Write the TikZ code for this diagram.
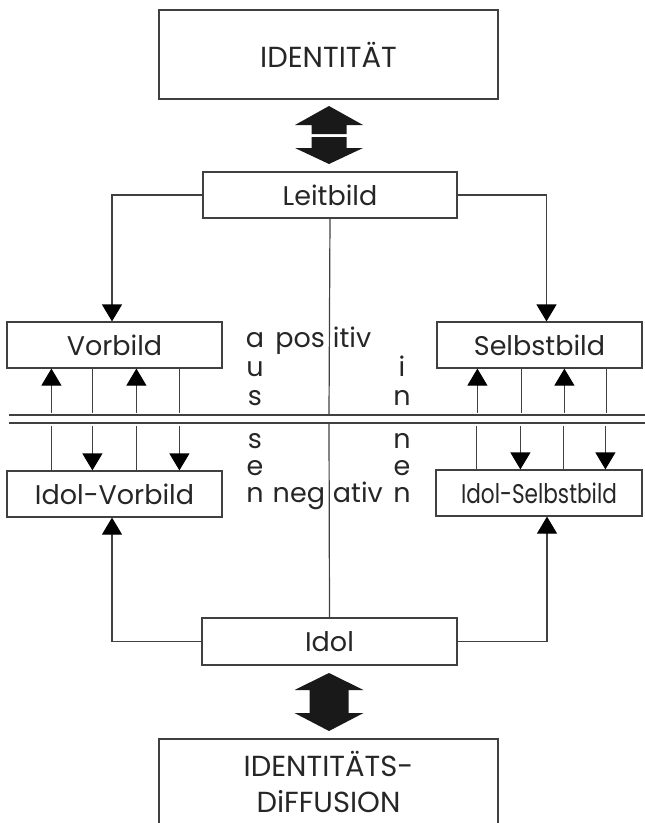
\documentclass[tikz,border=0pt]{standalone}
\usepackage{fontspec}
\setmainfont{Poppins}
\usepackage{graphicx}
\usetikzlibrary{arrows.meta,calc,positioning}

\tikzset{
  strich/.style={black!75, line width=1.2pt},
  bildbox/.style={draw=black!75, line width=1.2pt, inner sep=0pt, text=black!85},
  conn/.style={strich, -{Triangle[width=20pt,length=17pt,black]}},
  letter/.style={anchor=base, inner sep=0pt, text=black!85},
  bigarrow/.style={fill=black!90},
  bigtext/.style={font=\fontsize{29}{36}\selectfont},
}

\begin{document}
\begin{tikzpicture}[x=1pt, y=-1pt, font=\fontsize{27}{36}\selectfont]
  \useasboundingbox (0,0) rectangle (645,823);

  % Boxes
  \node[bildbox, bigtext, minimum width=339pt, minimum height=89pt] (ident) at (328.5,54.5) {IDENTITÄT};
  \node[bildbox, minimum width=254pt, minimum height=46pt] (leit) at (330,195) {Leitbild};
  \node[bildbox, minimum width=215pt, minimum height=46pt] (vor) at (114.5,345) {Vorbild};
  \node[bildbox, minimum width=205pt, minimum height=46pt] (selbst) at (539.5,345) {Selbstbild};
  \node[bildbox, minimum width=215pt, minimum height=46pt] (idolvor) at (114.5,494) {Idol-Vorbild};
  \node[bildbox, minimum width=206pt, minimum height=46pt] (idolselbst) at (539,493)
    {\scalebox{0.8}[1]{Idol-Selbstbild}};
  \node[bildbox, minimum width=255pt, minimum height=47pt] (idol) at (329.5,641.5) {Idol};

  % open box at the bottom
  \draw[strich] (159,823) -- (159,739) -- (498,739) -- (498,823);
  \node[bigtext, align=center, text=black!85, inner sep=0pt] (diff) at (328.5,782) {IDENTITÄTS-\\DiFFUSION};

  % big double arrows
  \fill[bigarrow, shift={(329,135.5)}] (0,-29.5) -- (34,-10.5) -- (17.5,-10.5) -- (17.5,-1.5)
    -- (-17.5,-1.5) -- (-17.5,-10.5) -- (-34,-10.5) -- cycle;
  \fill[bigarrow, shift={(329,135.5)}] (0,28.5) -- (34,12.5) -- (17.5,12.5) -- (17.5,1.5)
    -- (-17.5,1.5) -- (-17.5,12.5) -- (-34,12.5) -- cycle;
  \fill[bigarrow, shift={(329,702)}] (0,-29) -- (34.5,-12) -- (19.5,-12) -- (19.5,11) -- (34.5,11)
    -- (0,29) -- (-34.5,11) -- (-19.5,11) -- (-19.5,-12) -- (-34.5,-12) -- cycle;

  % Leitbild and Idol to the sides
  \draw[conn] (leit.west) -| ($(vor.north)+(-2.5,0)$);
  \draw[conn] (leit.east) -| ($(selbst.north)+(7,0)$);
  \draw[conn] (idol.west) -| ($(idolvor.south)+(-2.5,0)$);
  \draw[conn] (idol.east) -| ($(idolselbst.south)+(8,0)$);

  % double line across
  \coordinate (midU) at (329,415);
  \coordinate (midD) at (329,423);
  \draw[strich] (9,415) -- (645,415);
  \draw[strich] (9,423) -- (645,423);
  \draw[strich] (leit.south) -- (midU);
  \draw[strich] (midD) -- (idol.north);

  % short verticals, left
  \foreach \dx in {45,130} {
    \draw[conn] ($(vor.south west)+(\dx,44)$) -- ($(vor.south west)+(\dx,0)$);
    \draw[strich] ($(idolvor.north west)+(\dx,-44)$) -- ($(idolvor.north west)+(\dx,0)$);
  }
  \foreach \dx in {86,173} {
    \draw[strich] ($(vor.south west)+(\dx,44)$) -- ($(vor.south west)+(\dx,0)$);
    \draw[conn] ($(idolvor.north west)+(\dx,-44)$) -- ($(idolvor.north west)+(\dx,0)$);
  }
  % short verticals, right
  \foreach \dx in {41,128} {
    \draw[conn] ($(selbst.south west)+(\dx,44)$) -- ($(selbst.south west)+(\dx,0)$);
    \draw[strich] ($(idolselbst.north west)+(\dx,-43)$) -- ($(idolselbst.north west)+(\dx,0)$);
  }
  \foreach \dx in {85,170} {
    \draw[strich] ($(selbst.south west)+(\dx,44)$) -- ($(selbst.south west)+(\dx,0)$);
    \draw[conn] ($(idolselbst.north west)+(\dx,-43)$) -- ($(idolselbst.north west)+(\dx,0)$);
  }

  % letters in the middle
  \foreach \ch/\yy [count=\i] in {a/347,u/376,s/405,s/448,e/475,n/502}
    \node[letter] (aus\i) at (255,\yy) {\ch};
  \foreach \ch/\yy [count=\i] in {i/376,n/405,n/448,e/475,n/502}
    \node[letter] (in\i) at (402,\yy) {\ch};
  \node[letter] (pos) at (329,347) {\llap{pos}\kern8pt\rlap{itiv}};
  \node[letter] (neg) at (329,502) {\llap{neg}\kern8pt\rlap{ativ}};

\end{tikzpicture}
\end{document}
